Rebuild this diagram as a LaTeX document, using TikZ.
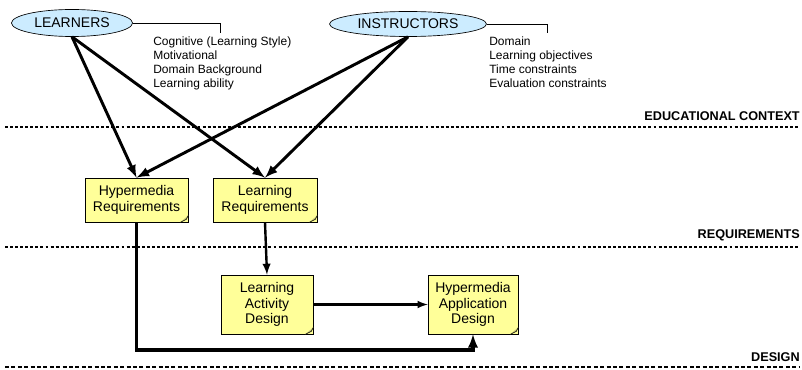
\documentclass[tikz,border=0pt]{standalone}
\usepackage{fontspec}
\setmainfont{Liberation Sans}
\usepackage{xcolor}
\usepackage{tikz}
\usetikzlibrary{shapes.geometric}

\definecolor{notefill}{RGB}{255,255,153}
\definecolor{actorfill}{RGB}{204,236,255}
\def\px{0.75pt}
\tikzset{
	actor/.style={ellipse,draw,line width=0.5pt,fill=actorfill,inner sep=0pt,font=\fontsize{10.5}{12}\selectfont},
	note/.style={draw,line width=0.5pt,fill=notefill,inner sep=0pt,align=center,font=\fontsize{10.5}{11.5}\selectfont},
	attr/.style={anchor=north west,align=left,inner sep=0pt,font=\fontsize{9}{10.5}\selectfont},
	layer/.style={anchor=south east,inner sep=0pt,font=\bfseries\fontsize{9.5}{11}\selectfont},
	flow/.style={line width=2.2pt,-latex},
	sep/.style={line width=2pt,dash pattern=on 2.2pt off 1.6pt},
}
\newcommand\fold[1]{
	\draw[line width=0.4pt,fill=notefill!75!black] ([xshift=-8*\px]#1.south east) -- ([xshift=-2*\px,yshift=3*\px]#1.south east) -- ([yshift=7*\px]#1.south east);
}

\begin{document}
\begin{tikzpicture}[x=\px,y=-\px]
		\useasboundingbox (0,0) rectangle (802,370);
		% actors
		\node[actor,minimum width=121*\px,minimum height=27*\px] (learners) at (72,23) {LEARNERS};
		\node[actor,minimum width=157*\px,minimum height=25*\px] (instructors) at (408,24) {INSTRUCTORS};
		\coordinate (lcorner) at (220,33);
		\coordinate (icorner) at (547,33);
		\draw[line width=0.5pt] (learners.east) -| (lcorner);
		\draw[line width=0.5pt] (instructors.east) -| (icorner);
		\node[attr] (learnattr) at (153,37) {Cognitive (Learning Style)\\Motivational\\Domain Background\\Learning ability};
		\node[attr] (instrattr) at (489,37) {Domain\\Learning objectives\\Time constraints\\Evaluation constraints};
		% layers
		\draw[sep] (5,127) -- (800,127);
		\draw[sep] (5,247) -- (800,247);
		\draw[line width=1pt,dash pattern=on 3pt off 1.8pt] (5,367) -- (800,367);
		\node[layer] (educ) at (800,121) {EDUCATIONAL CONTEXT};
		\node[layer] (req) at (800,241) {REQUIREMENTS};
		\node[layer] (des) at (800,362) {DESIGN};
		% notes
		\node[note,minimum width=103*\px,minimum height=44*\px] (hreq) at (136.5,200) {Hypermedia\\Requirements};
		\node[note,minimum width=104*\px,minimum height=44*\px] (lreq) at (265,200) {Learning\\Requirements};
		\node[note,minimum width=92*\px,minimum height=59*\px] (lad) at (267,304.5) {Learning\\Activity\\Design};
		\node[note,minimum width=90*\px,minimum height=59*\px] (had) at (473,304.5) {Hypermedia\\Application\\Design};
		\fold{hreq} \fold{lreq} \fold{lad} \fold{had}
		% flows
		\draw[flow] (learners.south) -- (hreq.north);
		\draw[flow] (learners.south) -- (lreq.north);
		\draw[flow] (instructors.south) -- (hreq.north);
		\draw[flow] (instructors.south) -- (lreq.north);
		\draw[flow,line width=1.8pt] (lreq.south) -- (lad.north);
		\draw[flow,line width=1.6pt] (lad) -- (had);
		\draw[flow,line width=2.4pt] (hreq.south) -- (hreq.south |- 0,350) -| (had.south);
	\end{tikzpicture}
\end{document}
